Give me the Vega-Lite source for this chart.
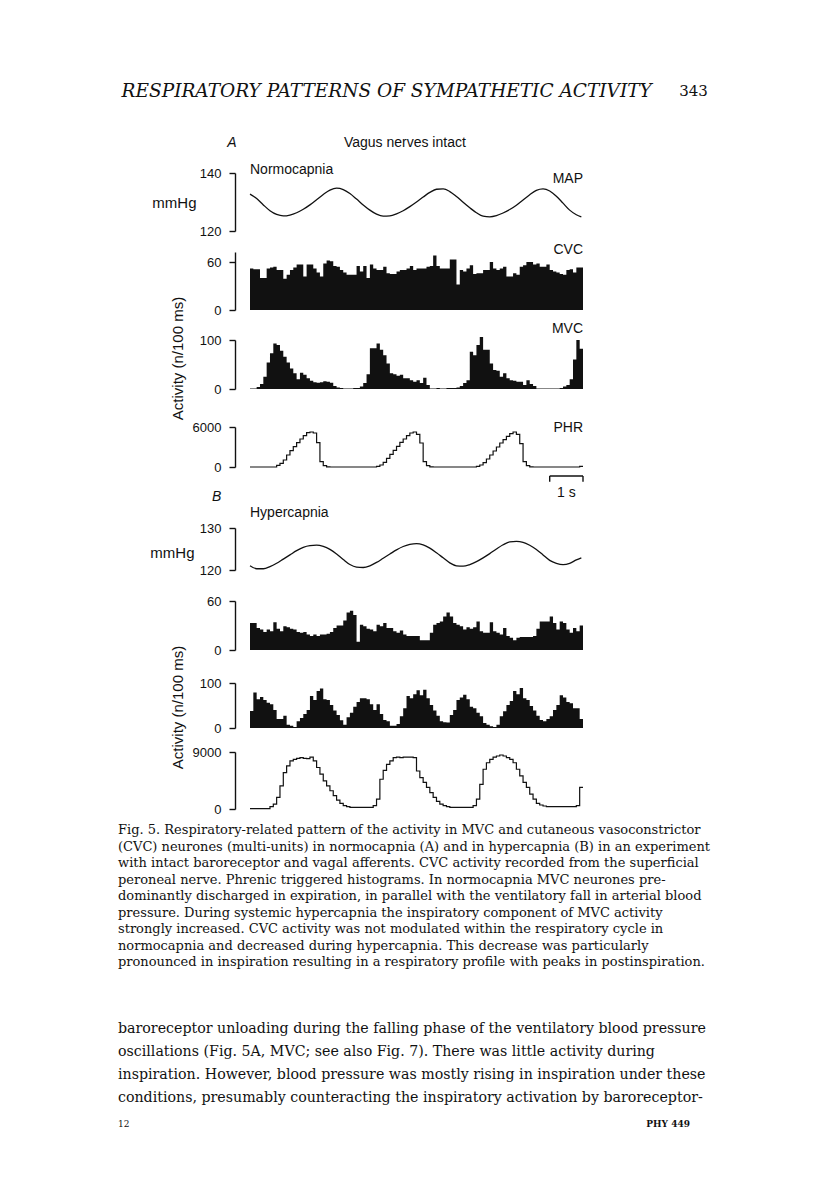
{
"$schema":"https://vega.github.io/schema/vega-lite/v6.json",
"background":"white",
"padding":{"left":118,"top":81,"right":10,"bottom":10},
"bounds":"flush",
"spacing":0,
"center":true,
"resolve":{"scale":{"x":"independent","y":"independent"}},
"config":{"view":{"stroke":null},
"axis":{"domainColor":"#111","domainWidth":1.4,"tickColor":"#111","tickWidth":1.4,"tickSize":6,"labelFont":"Liberation Sans","labelFontSize":13,"labelColor":"#111","labelPadding":8,"grid":false,"titleFont":"Liberation Sans","titleFontSize":15,"titleFontWeight":"normal","titleColor":"#111","format":"d"},
"text":{"font":"Liberation Sans","fontSize":14,"color":"#111"}},
"datasets":{
"map_a":[{"t":0,"v":132.7},{"t":0.2,"v":131.2},{"t":0.4,"v":129.0},{"t":0.6,"v":127.0},{"t":0.8,"v":125.7},{"t":1.0,"v":125.2},{"t":1.2,"v":125.5},{"t":1.4,"v":126.3},{"t":1.6,"v":127.5},{"t":1.8,"v":129.0},{"t":2.0,"v":130.8},{"t":2.2,"v":132.6},{"t":2.4,"v":134.1},{"t":2.6,"v":134.8},{"t":2.8,"v":134.3},{"t":3.0,"v":132.9},{"t":3.2,"v":131.0},{"t":3.4,"v":129.0},{"t":3.6,"v":127.2},{"t":3.8,"v":125.8},{"t":4.0,"v":125.1},{"t":4.2,"v":125.2},{"t":4.4,"v":125.9},{"t":4.6,"v":127.0},{"t":4.8,"v":128.4},{"t":5.0,"v":130.0},{"t":5.2,"v":131.7},{"t":5.4,"v":133.3},{"t":5.6,"v":134.4},{"t":5.8,"v":134.5},{"t":6.0,"v":133.6},{"t":6.2,"v":131.9},{"t":6.4,"v":129.9},{"t":6.6,"v":128.0},{"t":6.8,"v":126.3},{"t":7.0,"v":125.1},{"t":7.2,"v":124.9},{"t":7.4,"v":125.3},{"t":7.6,"v":126.2},{"t":7.8,"v":127.4},{"t":8.0,"v":128.9},{"t":8.2,"v":130.7},{"t":8.4,"v":132.5},{"t":8.6,"v":134.0},{"t":8.8,"v":134.5},{"t":9.0,"v":133.8},{"t":9.2,"v":132.0},{"t":9.4,"v":129.6},{"t":9.6,"v":127.2},{"t":9.8,"v":125.6},{"t":9.95,"v":124.9}],
"map_b":[{"t":0,"v":121.0},{"t":0.2,"v":120.3},{"t":0.4,"v":120.3},{"t":0.6,"v":120.8},{"t":0.8,"v":121.6},{"t":1.0,"v":122.6},{"t":1.2,"v":123.6},{"t":1.4,"v":124.6},{"t":1.6,"v":125.4},{"t":1.8,"v":125.8},{"t":2.0,"v":125.9},{"t":2.2,"v":125.6},{"t":2.4,"v":124.9},{"t":2.6,"v":123.8},{"t":2.8,"v":122.5},{"t":3.0,"v":121.3},{"t":3.2,"v":120.7},{"t":3.4,"v":120.6},{"t":3.6,"v":121.0},{"t":3.8,"v":121.8},{"t":4.0,"v":122.8},{"t":4.2,"v":123.8},{"t":4.4,"v":124.8},{"t":4.6,"v":125.6},{"t":4.8,"v":126.1},{"t":5.0,"v":126.3},{"t":5.2,"v":126.0},{"t":5.4,"v":125.2},{"t":5.6,"v":124.1},{"t":5.8,"v":122.9},{"t":6.0,"v":121.7},{"t":6.2,"v":121.0},{"t":6.4,"v":120.9},{"t":6.6,"v":121.3},{"t":6.8,"v":122.0},{"t":7.0,"v":122.9},{"t":7.2,"v":123.9},{"t":7.4,"v":125.0},{"t":7.6,"v":126.0},{"t":7.8,"v":126.7},{"t":8.0,"v":126.8},{"t":8.2,"v":126.6},{"t":8.4,"v":125.9},{"t":8.6,"v":124.9},{"t":8.8,"v":123.6},{"t":9.0,"v":122.3},{"t":9.2,"v":121.6},{"t":9.4,"v":121.3},{"t":9.6,"v":121.6},{"t":9.8,"v":122.4},{"t":9.95,"v":122.9}],
"cvc_a":[{"t":0,"v":52},{"t":0.1,"v":51},{"t":0.2,"v":51},{"t":0.3,"v":40},{"t":0.4,"v":40},{"t":0.5,"v":52},{"t":0.6,"v":53},{"t":0.7,"v":54},{"t":0.8,"v":50},{"t":0.9,"v":50},{"t":1.0,"v":39},{"t":1.1,"v":44},{"t":1.2,"v":50},{"t":1.3,"v":53},{"t":1.4,"v":57},{"t":1.5,"v":57},{"t":1.6,"v":42},{"t":1.7,"v":57},{"t":1.8,"v":57},{"t":1.9,"v":52},{"t":2.0,"v":47},{"t":2.1,"v":42},{"t":2.2,"v":58},{"t":2.3,"v":62},{"t":2.4,"v":61},{"t":2.5,"v":55},{"t":2.6,"v":54},{"t":2.7,"v":50},{"t":2.8,"v":47},{"t":2.9,"v":44},{"t":3.0,"v":44},{"t":3.1,"v":44},{"t":3.2,"v":55},{"t":3.3,"v":48},{"t":3.4,"v":55},{"t":3.5,"v":40},{"t":3.6,"v":57},{"t":3.7,"v":52},{"t":3.8,"v":50},{"t":3.9,"v":50},{"t":4.0,"v":54},{"t":4.1,"v":46},{"t":4.2,"v":45},{"t":4.3,"v":45},{"t":4.4,"v":48},{"t":4.5,"v":50},{"t":4.6,"v":50},{"t":4.7,"v":52},{"t":4.8,"v":55},{"t":4.9,"v":50},{"t":5.0,"v":52},{"t":5.1,"v":52},{"t":5.2,"v":52},{"t":5.3,"v":54},{"t":5.4,"v":55},{"t":5.5,"v":68},{"t":5.6,"v":55},{"t":5.7,"v":52},{"t":5.8,"v":52},{"t":5.9,"v":52},{"t":6.0,"v":63},{"t":6.1,"v":63},{"t":6.2,"v":32},{"t":6.3,"v":50},{"t":6.4,"v":48},{"t":6.5,"v":52},{"t":6.6,"v":56},{"t":6.7,"v":45},{"t":6.8,"v":46},{"t":6.9,"v":46},{"t":7.0,"v":50},{"t":7.1,"v":50},{"t":7.2,"v":60},{"t":7.3,"v":52},{"t":7.4,"v":50},{"t":7.5,"v":52},{"t":7.6,"v":54},{"t":7.7,"v":42},{"t":7.8,"v":42},{"t":7.9,"v":46},{"t":8.0,"v":44},{"t":8.1,"v":54},{"t":8.2,"v":56},{"t":8.3,"v":60},{"t":8.4,"v":60},{"t":8.5,"v":57},{"t":8.6,"v":58},{"t":8.7,"v":54},{"t":8.8,"v":54},{"t":8.9,"v":57},{"t":9.0,"v":50},{"t":9.1,"v":48},{"t":9.2,"v":47},{"t":9.3,"v":45},{"t":9.4,"v":44},{"t":9.5,"v":50},{"t":9.6,"v":51},{"t":9.7,"v":47},{"t":9.8,"v":53},{"t":9.9,"v":53},{"t":10,"v":53}],
"mvc_a":[{"t":0,"v":1},{"t":0.1,"v":1},{"t":0.2,"v":4},{"t":0.3,"v":10},{"t":0.4,"v":25},{"t":0.5,"v":54},{"t":0.6,"v":73},{"t":0.7,"v":93},{"t":0.8,"v":90},{"t":0.9,"v":78},{"t":1.0,"v":66},{"t":1.1,"v":54},{"t":1.2,"v":42},{"t":1.3,"v":32},{"t":1.4,"v":20},{"t":1.5,"v":33},{"t":1.6,"v":29},{"t":1.7,"v":22},{"t":1.8,"v":17},{"t":1.9,"v":14},{"t":2.0,"v":13},{"t":2.1,"v":14},{"t":2.2,"v":16},{"t":2.3,"v":15},{"t":2.4,"v":13},{"t":2.5,"v":6},{"t":2.6,"v":3},{"t":2.7,"v":2},{"t":2.8,"v":1},{"t":2.9,"v":1},{"t":3.0,"v":1},{"t":3.1,"v":2},{"t":3.2,"v":2},{"t":3.3,"v":5},{"t":3.4,"v":12},{"t":3.5,"v":30},{"t":3.6,"v":83},{"t":3.7,"v":83},{"t":3.8,"v":93},{"t":3.9,"v":80},{"t":4.0,"v":69},{"t":4.1,"v":52},{"t":4.2,"v":32},{"t":4.3,"v":30},{"t":4.4,"v":27},{"t":4.5,"v":29},{"t":4.6,"v":22},{"t":4.7,"v":22},{"t":4.8,"v":18},{"t":4.9,"v":15},{"t":5.0,"v":18},{"t":5.1,"v":12},{"t":5.2,"v":23},{"t":5.3,"v":8},{"t":5.4,"v":1},{"t":5.5,"v":1},{"t":5.6,"v":2},{"t":5.7,"v":1},{"t":5.8,"v":1},{"t":5.9,"v":2},{"t":6.0,"v":2},{"t":6.1,"v":2},{"t":6.2,"v":3},{"t":6.3,"v":6},{"t":6.4,"v":12},{"t":6.5,"v":18},{"t":6.6,"v":76},{"t":6.7,"v":69},{"t":6.8,"v":90},{"t":6.9,"v":106},{"t":7.0,"v":80},{"t":7.1,"v":80},{"t":7.2,"v":52},{"t":7.3,"v":39},{"t":7.4,"v":37},{"t":7.5,"v":25},{"t":7.6,"v":32},{"t":7.7,"v":22},{"t":7.8,"v":18},{"t":7.9,"v":17},{"t":8.0,"v":15},{"t":8.1,"v":15},{"t":8.2,"v":8},{"t":8.3,"v":18},{"t":8.4,"v":10},{"t":8.5,"v":6},{"t":8.6,"v":1},{"t":8.7,"v":1},{"t":8.8,"v":1},{"t":8.9,"v":1},{"t":9.0,"v":1},{"t":9.1,"v":1},{"t":9.2,"v":1},{"t":9.3,"v":2},{"t":9.4,"v":5},{"t":9.5,"v":8},{"t":9.6,"v":20},{"t":9.7,"v":60},{"t":9.8,"v":100},{"t":9.9,"v":82},{"t":10,"v":82}],
"phr_a":[{"t":0,"v":0},{"t":0.1,"v":0},{"t":0.2,"v":0},{"t":0.3,"v":0},{"t":0.4,"v":0},{"t":0.5,"v":0},{"t":0.6,"v":0},{"t":0.7,"v":0},{"t":0.8,"v":250},{"t":0.9,"v":550},{"t":1.0,"v":1050},{"t":1.1,"v":1800},{"t":1.2,"v":2450},{"t":1.3,"v":3050},{"t":1.4,"v":3650},{"t":1.5,"v":4200},{"t":1.6,"v":4700},{"t":1.7,"v":5150},{"t":1.8,"v":5250},{"t":1.9,"v":5100},{"t":2.0,"v":3650},{"t":2.1,"v":800},{"t":2.2,"v":200},{"t":2.3,"v":30},{"t":2.4,"v":0},{"t":2.5,"v":0},{"t":2.6,"v":0},{"t":2.7,"v":0},{"t":2.8,"v":0},{"t":2.9,"v":0},{"t":3.0,"v":0},{"t":3.1,"v":0},{"t":3.2,"v":0},{"t":3.3,"v":0},{"t":3.4,"v":0},{"t":3.5,"v":0},{"t":3.6,"v":0},{"t":3.7,"v":0},{"t":3.8,"v":100},{"t":3.9,"v":300},{"t":4.0,"v":700},{"t":4.1,"v":1300},{"t":4.2,"v":1900},{"t":4.3,"v":2500},{"t":4.4,"v":3100},{"t":4.5,"v":3700},{"t":4.6,"v":4200},{"t":4.7,"v":4700},{"t":4.8,"v":5100},{"t":4.9,"v":5250},{"t":5.0,"v":4900},{"t":5.1,"v":3600},{"t":5.2,"v":800},{"t":5.3,"v":200},{"t":5.4,"v":30},{"t":5.5,"v":0},{"t":5.6,"v":0},{"t":5.7,"v":0},{"t":5.8,"v":0},{"t":5.9,"v":0},{"t":6.0,"v":0},{"t":6.1,"v":0},{"t":6.2,"v":0},{"t":6.3,"v":0},{"t":6.4,"v":0},{"t":6.5,"v":0},{"t":6.6,"v":0},{"t":6.7,"v":0},{"t":6.8,"v":100},{"t":6.9,"v":300},{"t":7.0,"v":650},{"t":7.1,"v":1200},{"t":7.2,"v":1800},{"t":7.3,"v":2400},{"t":7.4,"v":3000},{"t":7.5,"v":3600},{"t":7.6,"v":4100},{"t":7.7,"v":4600},{"t":7.8,"v":5000},{"t":7.9,"v":5250},{"t":8.0,"v":4900},{"t":8.1,"v":3500},{"t":8.2,"v":800},{"t":8.3,"v":200},{"t":8.4,"v":30},{"t":8.5,"v":0},{"t":8.6,"v":0},{"t":8.7,"v":0},{"t":8.8,"v":0},{"t":8.9,"v":0},{"t":9.0,"v":0},{"t":9.1,"v":0},{"t":9.2,"v":0},{"t":9.3,"v":0},{"t":9.4,"v":0},{"t":9.5,"v":0},{"t":9.6,"v":0},{"t":9.7,"v":0},{"t":9.8,"v":0},{"t":9.9,"v":100},{"t":10,"v":100}],
"cvc_b":[{"t":0,"v":33},{"t":0.1,"v":33},{"t":0.2,"v":27},{"t":0.3,"v":25},{"t":0.4,"v":22},{"t":0.5,"v":25},{"t":0.6,"v":23},{"t":0.7,"v":34},{"t":0.8,"v":26},{"t":0.9,"v":23},{"t":1.0,"v":29},{"t":1.1,"v":28},{"t":1.2,"v":26},{"t":1.3,"v":25},{"t":1.4,"v":22},{"t":1.5,"v":21},{"t":1.6,"v":22},{"t":1.7,"v":19},{"t":1.8,"v":17},{"t":1.9,"v":19},{"t":2.0,"v":17},{"t":2.1,"v":19},{"t":2.2,"v":19},{"t":2.3,"v":20},{"t":2.4,"v":22},{"t":2.5,"v":27},{"t":2.6,"v":30},{"t":2.7,"v":30},{"t":2.8,"v":36},{"t":2.9,"v":46},{"t":3.0,"v":48},{"t":3.1,"v":43},{"t":3.2,"v":10},{"t":3.3,"v":31},{"t":3.4,"v":29},{"t":3.5,"v":26},{"t":3.6,"v":25},{"t":3.7,"v":23},{"t":3.8,"v":31},{"t":3.9,"v":29},{"t":4.0,"v":33},{"t":4.1,"v":27},{"t":4.2,"v":27},{"t":4.3,"v":23},{"t":4.4,"v":21},{"t":4.5,"v":24},{"t":4.6,"v":19},{"t":4.7,"v":17},{"t":4.8,"v":17},{"t":4.9,"v":17},{"t":5.0,"v":17},{"t":5.1,"v":12},{"t":5.2,"v":12},{"t":5.3,"v":12},{"t":5.4,"v":21},{"t":5.5,"v":31},{"t":5.6,"v":33},{"t":5.7,"v":35},{"t":5.8,"v":41},{"t":5.9,"v":46},{"t":6.0,"v":41},{"t":6.1,"v":33},{"t":6.2,"v":31},{"t":6.3,"v":29},{"t":6.4,"v":25},{"t":6.5,"v":28},{"t":6.6,"v":26},{"t":6.7,"v":28},{"t":6.8,"v":35},{"t":6.9,"v":23},{"t":7.0,"v":21},{"t":7.1,"v":21},{"t":7.2,"v":34},{"t":7.3,"v":23},{"t":7.4,"v":21},{"t":7.5,"v":19},{"t":7.6,"v":27},{"t":7.7,"v":17},{"t":7.8,"v":15},{"t":7.9,"v":12},{"t":8.0,"v":15},{"t":8.1,"v":16},{"t":8.2,"v":16},{"t":8.3,"v":16},{"t":8.4,"v":16},{"t":8.5,"v":17},{"t":8.6,"v":26},{"t":8.7,"v":35},{"t":8.8,"v":35},{"t":8.9,"v":35},{"t":9.0,"v":41},{"t":9.1,"v":33},{"t":9.2,"v":25},{"t":9.3,"v":35},{"t":9.4,"v":33},{"t":9.5,"v":25},{"t":9.6,"v":21},{"t":9.7,"v":27},{"t":9.8,"v":23},{"t":9.9,"v":30},{"t":10,"v":30}],
"mvc_b":[{"t":0,"v":38},{"t":0.1,"v":79},{"t":0.2,"v":64},{"t":0.3,"v":69},{"t":0.4,"v":62},{"t":0.5,"v":56},{"t":0.6,"v":53},{"t":0.7,"v":40},{"t":0.8,"v":20},{"t":0.9,"v":20},{"t":1.0,"v":27},{"t":1.1,"v":7},{"t":1.2,"v":5},{"t":1.3,"v":2},{"t":1.4,"v":15},{"t":1.5,"v":22},{"t":1.6,"v":31},{"t":1.7,"v":40},{"t":1.8,"v":71},{"t":1.9,"v":62},{"t":2.0,"v":82},{"t":2.1,"v":88},{"t":2.2,"v":64},{"t":2.3,"v":62},{"t":2.4,"v":51},{"t":2.5,"v":39},{"t":2.6,"v":29},{"t":2.7,"v":17},{"t":2.8,"v":7},{"t":2.9,"v":24},{"t":3.0,"v":34},{"t":3.1,"v":47},{"t":3.2,"v":58},{"t":3.3,"v":66},{"t":3.4,"v":66},{"t":3.5,"v":64},{"t":3.6,"v":53},{"t":3.7,"v":40},{"t":3.8,"v":53},{"t":3.9,"v":31},{"t":4.0,"v":18},{"t":4.1,"v":15},{"t":4.2,"v":5},{"t":4.3,"v":5},{"t":4.4,"v":9},{"t":4.5,"v":26},{"t":4.6,"v":44},{"t":4.7,"v":71},{"t":4.8,"v":66},{"t":4.9,"v":75},{"t":5.0,"v":84},{"t":5.1,"v":73},{"t":5.2,"v":85},{"t":5.3,"v":66},{"t":5.4,"v":51},{"t":5.5,"v":39},{"t":5.6,"v":27},{"t":5.7,"v":15},{"t":5.8,"v":13},{"t":5.9,"v":12},{"t":6.0,"v":29},{"t":6.1,"v":40},{"t":6.2,"v":62},{"t":6.3,"v":68},{"t":6.4,"v":74},{"t":6.5,"v":64},{"t":6.6,"v":47},{"t":6.7,"v":44},{"t":6.8,"v":34},{"t":6.9,"v":26},{"t":7.0,"v":11},{"t":7.1,"v":7},{"t":7.2,"v":4},{"t":7.3,"v":2},{"t":7.4,"v":7},{"t":7.5,"v":26},{"t":7.6,"v":37},{"t":7.7,"v":51},{"t":7.8,"v":60},{"t":7.9,"v":82},{"t":8.0,"v":75},{"t":8.1,"v":89},{"t":8.2,"v":66},{"t":8.3,"v":62},{"t":8.4,"v":49},{"t":8.5,"v":39},{"t":8.6,"v":27},{"t":8.7,"v":18},{"t":8.8,"v":15},{"t":8.9,"v":20},{"t":9.0,"v":26},{"t":9.1,"v":40},{"t":9.2,"v":51},{"t":9.3,"v":73},{"t":9.4,"v":68},{"t":9.5,"v":58},{"t":9.6,"v":55},{"t":9.7,"v":44},{"t":9.8,"v":44},{"t":9.9,"v":20},{"t":10,"v":20}],
"phr_b":[{"t":0,"v":50},{"t":0.1,"v":50},{"t":0.2,"v":50},{"t":0.3,"v":50},{"t":0.4,"v":50},{"t":0.5,"v":50},{"t":0.6,"v":370},{"t":0.7,"v":780},{"t":0.8,"v":1830},{"t":0.9,"v":3660},{"t":1.0,"v":5750},{"t":1.1,"v":6800},{"t":1.2,"v":7600},{"t":1.3,"v":7850},{"t":1.4,"v":8000},{"t":1.5,"v":8100},{"t":1.6,"v":8000},{"t":1.7,"v":7950},{"t":1.8,"v":8200},{"t":1.9,"v":7600},{"t":2.0,"v":6550},{"t":2.1,"v":5500},{"t":2.2,"v":4450},{"t":2.3,"v":3660},{"t":2.4,"v":2880},{"t":2.5,"v":2100},{"t":2.6,"v":1410},{"t":2.7,"v":890},{"t":2.8,"v":520},{"t":2.9,"v":370},{"t":3.0,"v":260},{"t":3.1,"v":260},{"t":3.2,"v":260},{"t":3.3,"v":260},{"t":3.4,"v":260},{"t":3.5,"v":260},{"t":3.6,"v":260},{"t":3.7,"v":520},{"t":3.8,"v":1570},{"t":3.9,"v":4700},{"t":4.0,"v":6100},{"t":4.1,"v":7050},{"t":4.2,"v":7600},{"t":4.3,"v":8100},{"t":4.4,"v":8200},{"t":4.5,"v":8100},{"t":4.6,"v":8200},{"t":4.7,"v":8200},{"t":4.8,"v":8200},{"t":4.9,"v":8100},{"t":5.0,"v":6000},{"t":5.1,"v":4950},{"t":5.2,"v":4200},{"t":5.3,"v":3400},{"t":5.4,"v":2600},{"t":5.5,"v":1830},{"t":5.6,"v":1200},{"t":5.7,"v":780},{"t":5.8,"v":520},{"t":5.9,"v":370},{"t":6.0,"v":260},{"t":6.1,"v":260},{"t":6.2,"v":260},{"t":6.3,"v":260},{"t":6.4,"v":260},{"t":6.5,"v":260},{"t":6.6,"v":260},{"t":6.7,"v":520},{"t":6.8,"v":1570},{"t":6.9,"v":3900},{"t":7.0,"v":6280},{"t":7.1,"v":7300},{"t":7.2,"v":7850},{"t":7.3,"v":8200},{"t":7.4,"v":8370},{"t":7.5,"v":8530},{"t":7.6,"v":8370},{"t":7.7,"v":8100},{"t":7.8,"v":7850},{"t":7.9,"v":7300},{"t":8.0,"v":6280},{"t":8.1,"v":5230},{"t":8.2,"v":4200},{"t":8.3,"v":3400},{"t":8.4,"v":2350},{"t":8.5,"v":1570},{"t":8.6,"v":890},{"t":8.7,"v":630},{"t":8.8,"v":470},{"t":8.9,"v":370},{"t":9.0,"v":370},{"t":9.1,"v":370},{"t":9.2,"v":370},{"t":9.3,"v":370},{"t":9.4,"v":370},{"t":9.5,"v":370},{"t":9.6,"v":370},{"t":9.7,"v":370},{"t":9.8,"v":520},{"t":9.9,"v":3400},{"t":10,"v":3400}]
},
"vconcat":[
{"width":597,"height":20,"layer":[
 {"data":{"values":[{"label":"RESPIRATORY PATTERNS OF SYMPATHETIC ACTIVITY"}]},"mark":{"type":"text","align":"left","baseline":"middle","font":"DejaVu Serif","fontStyle":"italic","fontSize":18.5},"encoding":{"x":{"datum":0.006,"type":"quantitative","scale":{"domain":[0,1],"nice":false,"zero":false},"axis":null},"text":{"field":"label"}}},
 {"data":{"values":[{"label":"343"}]},"mark":{"type":"text","align":"right","baseline":"middle","font":"DejaVu Serif","fontSize":15},"encoding":{"x":{"datum":0.988,"type":"quantitative","scale":{"domain":[0,1],"nice":false,"zero":false},"axis":null},"text":{"field":"label"}}}
]},
{"width":333,"height":72,"data":{"values":[]},"mark":"text"},
{"width":333,"height":58,"layer":[
 {"data":{"name":"map_a"},"mark":{"type":"line","interpolate":"monotone","color":"#111","strokeWidth":1.3},"encoding":{"x":{"field":"t","type":"quantitative","scale":{"domain":[0,10],"nice":false,"zero":false},"axis":null},"y":{"field":"v","type":"quantitative","scale":{"domain":[120,140],"nice":false,"zero":false},"axis":{"values":[120,140],"offset":15,"title":"mmHg","titleAngle":0,"titleAlign":"right","titleBaseline":"middle","titleX":-39,"titleY":29}}}},
 {"data":{"values":[{"label":"Normocapnia"}]},"mark":{"type":"text","align":"left","baseline":"middle"},"encoding":{"x":{"datum":0,"type":"quantitative","scale":{"domain":[0,10],"nice":false,"zero":false},"axis":null},"y":{"datum":141,"type":"quantitative","scale":{"domain":[120,140],"nice":false,"zero":false},"axis":{"values":[120,140],"offset":15,"title":"mmHg","titleAngle":0,"titleAlign":"right","titleBaseline":"middle","titleX":-39,"titleY":29}},"text":{"field":"label"}}},
 {"data":{"values":[{"label":"MAP"}]},"mark":{"type":"text","align":"right","baseline":"middle"},"encoding":{"x":{"datum":10,"type":"quantitative","scale":{"domain":[0,10],"nice":false,"zero":false},"axis":null},"y":{"datum":137.9,"type":"quantitative","scale":{"domain":[120,140],"nice":false,"zero":false},"axis":{"values":[120,140],"offset":15,"title":"mmHg","titleAngle":0,"titleAlign":"right","titleBaseline":"middle","titleX":-39,"titleY":29}},"text":{"field":"label"}}},
 {"data":{"values":[{"label":"A"}]},"mark":{"type":"text","align":"center","baseline":"middle","fontStyle":"italic"},"encoding":{"x":{"datum":-0.54,"type":"quantitative","scale":{"domain":[0,10],"nice":false,"zero":false},"axis":null},"y":{"datum":150.3,"type":"quantitative","scale":{"domain":[120,140],"nice":false,"zero":false},"axis":{"values":[120,140],"offset":15,"title":"mmHg","titleAngle":0,"titleAlign":"right","titleBaseline":"middle","titleX":-39,"titleY":29}},"text":{"field":"label"}}},
 {"data":{"values":[{"label":"Vagus nerves intact"}]},"mark":{"type":"text","align":"center","baseline":"middle"},"encoding":{"x":{"datum":4.65,"type":"quantitative","scale":{"domain":[0,10],"nice":false,"zero":false},"axis":null},"y":{"datum":150.3,"type":"quantitative","scale":{"domain":[120,140],"nice":false,"zero":false},"axis":{"values":[120,140],"offset":15,"title":"mmHg","titleAngle":0,"titleAlign":"right","titleBaseline":"middle","titleX":-39,"titleY":29}},"text":{"field":"label"}}}
]},
{"width":333,"height":21,"data":{"values":[]},"mark":"text"},
{"width":333,"height":58,"layer":[
 {"data":{"name":"cvc_a"},"mark":{"type":"area","interpolate":"step-after","color":"#111"},"encoding":{"x":{"field":"t","type":"quantitative","scale":{"domain":[0,10],"nice":false,"zero":false},"axis":null},"y":{"field":"v","type":"quantitative","scale":{"domain":[0,72.5],"nice":false},"axis":{"values":[0,60],"offset":15,"title":null}}}},
 {"data":{"values":[{"label":"CVC"}]},"mark":{"type":"text","align":"right","baseline":"middle"},"encoding":{"x":{"datum":10,"type":"quantitative","scale":{"domain":[0,10],"nice":false,"zero":false},"axis":null},"y":{"datum":75,"type":"quantitative","scale":{"domain":[0,72.5],"nice":false},"axis":{"values":[0,60],"offset":15,"title":null}},"text":{"field":"label"}}}
]},
{"width":333,"height":30,"data":{"values":[]},"mark":"text"},
{"width":333,"height":49,"layer":[
 {"data":{"name":"mvc_a"},"mark":{"type":"area","interpolate":"step-after","color":"#111"},"encoding":{"x":{"field":"t","type":"quantitative","scale":{"domain":[0,10],"nice":false,"zero":false},"axis":null},"y":{"field":"v","type":"quantitative","scale":{"domain":[0,100],"nice":false},"axis":{"values":[0,100],"offset":15,"title":"Activity (n/100 ms)","titleAngle":270,"titleAlign":"center","titleBaseline":"middle","titleX":-58,"titleY":18}}}},
 {"data":{"values":[{"label":"MVC"}]},"mark":{"type":"text","align":"right","baseline":"middle"},"encoding":{"x":{"datum":10,"type":"quantitative","scale":{"domain":[0,10],"nice":false,"zero":false},"axis":null},"y":{"datum":122.4,"type":"quantitative","scale":{"domain":[0,100],"nice":false},"axis":{"values":[0,100],"offset":15,"title":"Activity (n/100 ms)","titleAngle":270,"titleAlign":"center","titleBaseline":"middle","titleX":-58,"titleY":18}},"text":{"field":"label"}}}
]},
{"width":333,"height":38,"data":{"values":[]},"mark":"text"},
{"width":333,"height":40,"layer":[
 {"data":{"name":"phr_a"},"mark":{"type":"line","interpolate":"step-after","color":"#111","strokeWidth":1.2},"encoding":{"x":{"field":"t","type":"quantitative","scale":{"domain":[0,10],"nice":false,"zero":false},"axis":null},"y":{"field":"v","type":"quantitative","scale":{"domain":[0,6000],"nice":false},"axis":{"values":[0,6000],"offset":15,"title":null}}}},
 {"data":{"values":[{"label":"PHR"}]},"mark":{"type":"text","align":"right","baseline":"middle"},"encoding":{"x":{"datum":10,"type":"quantitative","scale":{"domain":[0,10],"nice":false,"zero":false},"axis":null},"y":{"datum":5850,"type":"quantitative","scale":{"domain":[0,6000],"nice":false},"axis":{"values":[0,6000],"offset":15,"title":null}},"text":{"field":"label"}}},
 {"data":{"values":[{"label":"1 s"}]},"mark":{"type":"rule","color":"#111","strokeWidth":1.4},"encoding":{"x":{"datum":9,"type":"quantitative","scale":{"domain":[0,10],"nice":false,"zero":false},"axis":null},"x2":{"datum":10},"y":{"datum":-1350,"type":"quantitative","scale":{"domain":[0,6000],"nice":false},"axis":{"values":[0,6000],"offset":15,"title":null}}}},
 {"data":{"values":[{"label":"1 s"}]},"mark":{"type":"rule","color":"#111","strokeWidth":1.4},"encoding":{"x":{"datum":9,"type":"quantitative","scale":{"domain":[0,10],"nice":false,"zero":false},"axis":null},"y":{"datum":-1350,"type":"quantitative","scale":{"domain":[0,6000],"nice":false},"axis":{"values":[0,6000],"offset":15,"title":null}},"y2":{"datum":-2200}}},
 {"data":{"values":[{"label":"1 s"}]},"mark":{"type":"rule","color":"#111","strokeWidth":1.4},"encoding":{"x":{"datum":10,"type":"quantitative","scale":{"domain":[0,10],"nice":false,"zero":false},"axis":null},"y":{"datum":-1350,"type":"quantitative","scale":{"domain":[0,6000],"nice":false},"axis":{"values":[0,6000],"offset":15,"title":null}},"y2":{"datum":-2200}}},
 {"data":{"values":[{"label":"1 s"}]},"mark":{"type":"text","align":"center","baseline":"middle"},"encoding":{"x":{"datum":9.5,"type":"quantitative","scale":{"domain":[0,10],"nice":false,"zero":false},"axis":null},"y":{"datum":-3900,"type":"quantitative","scale":{"domain":[0,6000],"nice":false},"axis":{"values":[0,6000],"offset":15,"title":null}},"text":{"field":"label"}}}
]},
{"width":333,"height":61,"data":{"values":[]},"mark":"text"},
{"width":333,"height":42,"layer":[
 {"data":{"name":"map_b"},"mark":{"type":"line","interpolate":"monotone","color":"#111","strokeWidth":1.3},"encoding":{"x":{"field":"t","type":"quantitative","scale":{"domain":[0,10],"nice":false,"zero":false},"axis":null},"y":{"field":"v","type":"quantitative","scale":{"domain":[120,130],"nice":false,"zero":false},"axis":{"values":[120,130],"offset":15,"title":"mmHg","titleAngle":0,"titleAlign":"right","titleBaseline":"middle","titleX":-41,"titleY":24}}}},
 {"data":{"values":[{"label":"B"}]},"mark":{"type":"text","align":"center","baseline":"middle","fontStyle":"italic"},"encoding":{"x":{"datum":-1.0,"type":"quantitative","scale":{"domain":[0,10],"nice":false,"zero":false},"axis":null},"y":{"datum":137.4,"type":"quantitative","scale":{"domain":[120,130],"nice":false,"zero":false},"axis":{"values":[120,130],"offset":15,"title":"mmHg","titleAngle":0,"titleAlign":"right","titleBaseline":"middle","titleX":-41,"titleY":24}},"text":{"field":"label"}}},
 {"data":{"values":[{"label":"Hypercapnia"}]},"mark":{"type":"text","align":"left","baseline":"middle"},"encoding":{"x":{"datum":0,"type":"quantitative","scale":{"domain":[0,10],"nice":false,"zero":false},"axis":null},"y":{"datum":133.6,"type":"quantitative","scale":{"domain":[120,130],"nice":false,"zero":false},"axis":{"values":[120,130],"offset":15,"title":"mmHg","titleAngle":0,"titleAlign":"right","titleBaseline":"middle","titleX":-41,"titleY":24}},"text":{"field":"label"}}}
]},
{"width":333,"height":31,"data":{"values":[]},"mark":"text"},
{"width":333,"height":49,"layer":[
 {"data":{"name":"cvc_b"},"mark":{"type":"area","interpolate":"step-after","color":"#111"},"encoding":{"x":{"field":"t","type":"quantitative","scale":{"domain":[0,10],"nice":false,"zero":false},"axis":null},"y":{"field":"v","type":"quantitative","scale":{"domain":[0,60],"nice":false},"axis":{"values":[0,60],"offset":15,"title":null}}}}
]},
{"width":333,"height":33,"data":{"values":[]},"mark":"text"},
{"width":333,"height":45,"layer":[
 {"data":{"name":"mvc_b"},"mark":{"type":"area","interpolate":"step-after","color":"#111"},"encoding":{"x":{"field":"t","type":"quantitative","scale":{"domain":[0,10],"nice":false,"zero":false},"axis":null},"y":{"field":"v","type":"quantitative","scale":{"domain":[0,100],"nice":false},"axis":{"values":[0,100],"offset":15,"title":"Activity (n/100 ms)","titleAngle":270,"titleAlign":"center","titleBaseline":"middle","titleX":-58,"titleY":24}}}}
]},
{"width":333,"height":24,"data":{"values":[]},"mark":"text"},
{"width":333,"height":57,"layer":[
 {"data":{"name":"phr_b"},"mark":{"type":"line","interpolate":"step-after","color":"#111","strokeWidth":1.2},"encoding":{"x":{"field":"t","type":"quantitative","scale":{"domain":[0,10],"nice":false,"zero":false},"axis":null},"y":{"field":"v","type":"quantitative","scale":{"domain":[0,9000],"nice":false},"axis":{"values":[0,9000],"offset":15,"title":null}}}}
]},
{"width":333,"height":13,"data":{"values":[]},"mark":"text"},
{"width":597,"height":148.5,
 "data":{"values":[
  {"line":1,"text":"Fig. 5. Respiratory-related pattern of the activity in MVC and cutaneous vasoconstrictor"},
  {"line":2,"text":"(CVC) neurones (multi-units) in normocapnia (A) and in hypercapnia (B) in an experiment"},
  {"line":3,"text":"with intact baroreceptor and vagal afferents. CVC activity recorded from the superficial"},
  {"line":4,"text":"peroneal nerve. Phrenic triggered histograms. In normocapnia MVC neurones pre-"},
  {"line":5,"text":"dominantly discharged in expiration, in parallel with the ventilatory fall in arterial blood"},
  {"line":6,"text":"pressure. During systemic hypercapnia the inspiratory component of MVC activity"},
  {"line":7,"text":"strongly increased. CVC activity was not modulated within the respiratory cycle in"},
  {"line":8,"text":"normocapnia and decreased during hypercapnia. This decrease was particularly"},
  {"line":9,"text":"pronounced in inspiration resulting in a respiratory profile with peaks in postinspiration."}]},
 "mark":{"type":"text","align":"left","baseline":"middle","font":"DejaVu Serif","fontSize":13},
 "encoding":{"x":{"datum":0,"type":"quantitative","scale":{"domain":[0,1],"nice":false,"zero":false},"axis":null},"y":{"field":"line","type":"ordinal","scale":{"padding":0.5},"axis":null},"text":{"field":"text"}}},
{"width":333,"height":46,"data":{"values":[]},"mark":"text"},
{"width":597,"height":92,
 "data":{"values":[
  {"line":1,"text":"baroreceptor unloading during the falling phase of the ventilatory blood pressure"},
  {"line":2,"text":"oscillations (Fig. 5A, MVC; see also Fig. 7). There was little activity during"},
  {"line":3,"text":"inspiration. However, blood pressure was mostly rising in inspiration under these"},
  {"line":4,"text":"conditions, presumably counteracting the inspiratory activation by baroreceptor-"}]},
 "mark":{"type":"text","align":"left","baseline":"middle","font":"DejaVu Serif","fontSize":14.2},
 "encoding":{"x":{"datum":0,"type":"quantitative","scale":{"domain":[0,1],"nice":false,"zero":false},"axis":null},"y":{"field":"line","type":"ordinal","scale":{"padding":0.5},"axis":null},"text":{"field":"text"}}},
{"width":333,"height":9,"data":{"values":[]},"mark":"text"},
{"width":597,"height":12,"layer":[
 {"data":{"values":[{"label":"12"}]},"mark":{"type":"text","align":"left","baseline":"middle","font":"DejaVu Serif","fontSize":9},"encoding":{"x":{"datum":0,"type":"quantitative","scale":{"domain":[0,1],"nice":false,"zero":false},"axis":null},"text":{"field":"label"}}},
 {"data":{"values":[{"label":"PHY 449"}]},"mark":{"type":"text","align":"right","baseline":"middle","font":"DejaVu Serif","fontSize":9,"fontWeight":"bold"},"encoding":{"x":{"datum":0.958,"type":"quantitative","scale":{"domain":[0,1],"nice":false,"zero":false},"axis":null},"text":{"field":"label"}}}
]}
]
}
